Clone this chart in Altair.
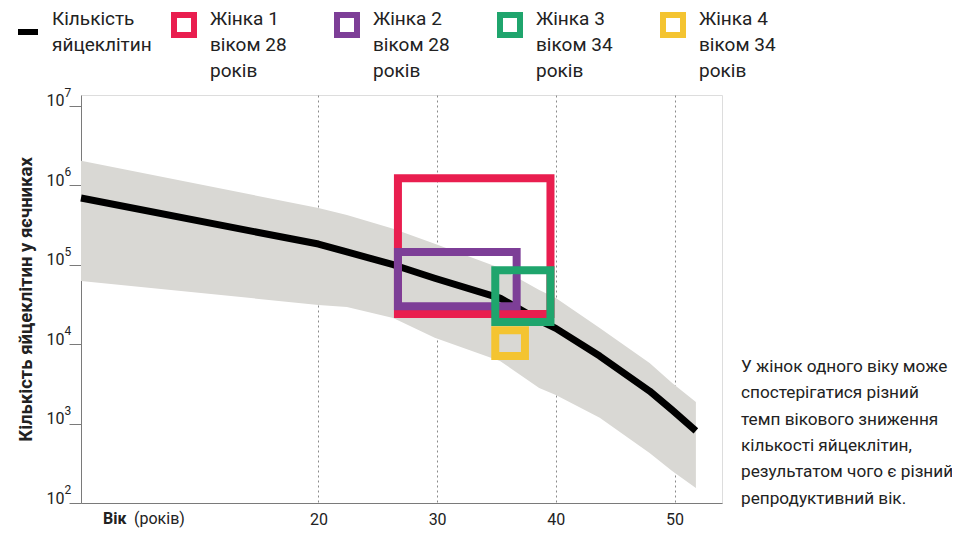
import altair as alt
import pandas as pd

# ---- data ----
ages = [0, 20, 22.4, 26.3, 29.8, 35.3, 38.6, 40, 43.7, 47.9, 49.8, 51.8]
eggs_median = [692000, 182000, 145000, 100000, 67600, 38000, 20000, 15800, 7080, 2570, 1480, 810]
eggs_upper = [2030000, 519000, 424000, 283000, 183000, 91200, 47900, 38200, 16000, 5790, 3240, 1870]
eggs_lower = [62500, 31200, 29400, 21400, 12000, 6140, 2810, 2290, 1180, 427, 253, 155]

series_name = ["Кількість\nяйцеклітин"]

women = ["Жінка 1\nвіком 28\nроків", "Жінка 2\nвіком 28\nроків",
         "Жінка 3\nвіком 34\nроків", "Жінка 4\nвіком 34\nроків"]
box_age_start = [26.7, 26.7, 34.9, 34.9]
box_age_end = [39.55, 36.7, 39.55, 37.4]
box_count_high = [1230000, 145000, 85000, 15000]
box_count_low = [24000, 30000, 19000, 7100]
box_colors = ["#e91e4f", "#7d3e97", "#1fa56d", "#f4c431"]

y_ticks = [1e2, 1e3, 1e4, 1e5, 1e6, 1e7]
y_exponents = ["2", "3", "4", "5", "6", "7"]
x_ticks = [20, 30, 40, 50]

note_lines = ["У жінок одного віку може", "спостерігатися різний",
              "темп вікового зниження", "кількості яйцеклітин,",
              "результатом чого є різний", "репродуктивний вік."]
y_title = "Кількість яйцеклітин у яєчниках"
x_title_bold = "Вік"
x_title_rest = "(років)"

# ---- tables ----
curve = pd.DataFrame({"age": ages, "median": eggs_median, "upper": eggs_upper,
                      "lower": eggs_lower, "series": series_name * len(ages)})
boxes = pd.DataFrame({"woman": women, "a0": box_age_start, "a1": box_age_end,
                      "hi": box_count_high, "lo": box_count_low})
exps = pd.DataFrame({"v": y_ticks, "e": y_exponents})

FONT = "Roboto"
INK = "#222222"
AX = "#7a7a7a"

xs = alt.Scale(domain=[0, 54], nice=False, zero=False)
ys = alt.Scale(type="log", domain=[100, 13700000], nice=False)

x_axis = alt.Axis(values=x_ticks, title=None, ticks=False, grid=True,
                  gridDash=[2, 3], gridColor="#8a8a8a", gridWidth=1,
                  domainColor=AX, labelFont=FONT, labelFontSize=16,
                  labelColor=INK, labelPadding=8, labelFlush=False)
y_axis = alt.Axis(values=y_ticks, title=y_title, grid=False, tickSize=12,
                  tickColor=AX, domainColor=AX, labelFont=FONT, labelFontSize=16,
                  labelColor=INK, labelPadding=5, labelBaseline="alphabetic",
                  labelExpr="'10'",
                  titleFont=FONT, titleFontSize=18.5, titleFontWeight="bold",
                  titleColor=INK, titleX=-56, titleY=204, titleAngle=-90,
                  titleAlign="center", titleBaseline="middle")

band = alt.Chart(curve).mark_area(color="#d9d8d4").encode(
    x=alt.X("age:Q", scale=xs, axis=x_axis),
    y=alt.Y("upper:Q", scale=ys, axis=y_axis),
    y2="lower:Q",
)

line = alt.Chart(curve).mark_line(strokeWidth=7, strokeJoin="round").encode(
    x=alt.X("age:Q", scale=xs),
    y=alt.Y("median:Q", scale=ys),
    color=alt.Color("series:N",
                    scale=alt.Scale(domain=series_name, range=["#000000"]),
                    legend=alt.Legend(title=None, orient="none", legendX=-66, legendY=-76,
                                      symbolType="stroke", symbolSize=400,
                                      symbolStrokeWidth=6, labelFont=FONT,
                                      labelFontSize=19, labelColor=INK,
                                      labelLimit=300, labelOffset=11, padding=0,
                                      labelBaseline="line-bottom",
                                      labelExpr="split(datum.label, '\\n')")),
)

rects = alt.Chart(boxes).mark_rect(filled=False, strokeWidth=8).encode(
    x=alt.X("a0:Q", scale=xs),
    x2="a1:Q",
    y=alt.Y("hi:Q", scale=ys),
    y2="lo:Q",
    stroke=alt.Stroke("woman:N",
                      scale=alt.Scale(domain=women, range=box_colors),
                      legend=alt.Legend(title=None, orient="none", legendX=90, legendY=-83,
                                        direction="horizontal", columns=4,
                                        columnPadding=38, symbolType="square",
                                        symbolSize=400, symbolStrokeWidth=6,
                                        labelFont=FONT, labelFontSize=19,
                                        labelColor=INK, labelLimit=300,
                                        labelOffset=13, padding=0,
                                        labelBaseline="alphabetic",
                                        labelExpr="split(datum.label, '\\n')")),
)

exp_text = alt.Chart(exps).mark_text(
    align="left", baseline="alphabetic", font=FONT, fontSize=12, dy=-9, color=INK
).encode(x=alt.value(-16.5), y=alt.Y("v:Q", scale=ys), text="e:N")

note = alt.Chart(pd.DataFrame({"t": ["\n".join(note_lines)]})).mark_text(
    align="left", baseline="alphabetic", font=FONT, fontSize=17.2,
    lineHeight=26.3, lineBreak="\n", color=INK
).encode(x=alt.value(660), y=alt.value(277), text="t:N")

xt1 = alt.Chart(pd.DataFrame({"t": [x_title_bold]})).mark_text(
    align="left", baseline="alphabetic", font=FONT, fontSize=16,
    fontWeight="bold", color=INK
).encode(x=alt.value(22), y=alt.value(429), text="t:N")

xt2 = alt.Chart(pd.DataFrame({"t": [x_title_rest]})).mark_text(
    align="left", baseline="alphabetic", font=FONT, fontSize=16, color=INK
).encode(x=alt.value(53), y=alt.value(429), text="t:N")

chart = alt.layer(band, line, rects, exp_text, note, xt1, xt2).resolve_scale(
    color="independent", stroke="independent"
).properties(
    width=641, height=408,
    autosize=alt.AutoSizeParams(type="none"),
    padding={"left": 73, "top": 87, "right": 230, "bottom": 26},
    background="white",
).configure_view(stroke=None).configure(
    style={"guide-label": {"lineHeight": 26}}
)

chart.save("out.html", embed_options={"renderer": "svg", "actions": False})
